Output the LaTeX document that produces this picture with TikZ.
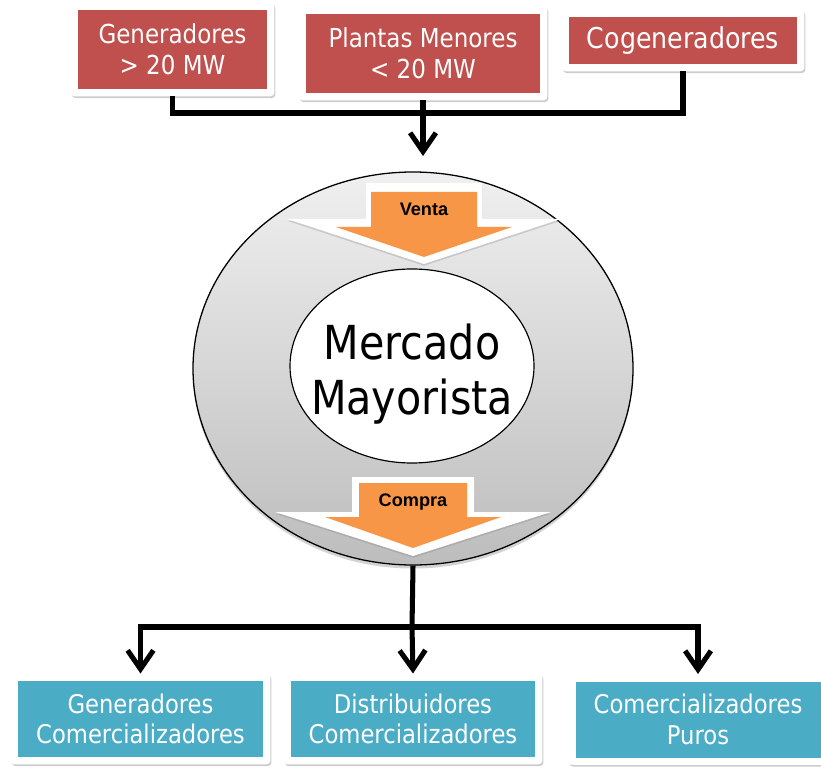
\documentclass[tikz,border=0pt]{standalone}
\usepackage{fontspec}
\setmainfont[FakeStretch=0.88]{DejaVu Sans}
\newfontfamily\labelfont{Liberation Sans}
\usetikzlibrary{arrows.meta,positioning,fit,backgrounds,shadows,shapes.geometric}
\definecolor{boxred}{HTML}{C0504D}
\definecolor{boxteal}{HTML}{4BACC6}
\definecolor{arroworange}{HTML}{F79646}

\begin{document}
\begin{tikzpicture}[x=0.03cm, y=-0.03cm,
  redbox/.style={fill=boxred, text=white, shape=rectangle, align=center, inner sep=0pt, font=\fontsize{22.3}{26.5}\selectfont},
  tealbox/.style={fill=boxteal, text=white, shape=rectangle, align=center, inner sep=0pt, minimum height=2.28cm, font=\fontsize{22}{26}\selectfont},
  frame/.style={fill=white, inner sep=6pt, rounded corners=3pt, drop shadow={opacity=0.4, shadow xshift=1pt, shadow yshift=-1.5pt}},
  conn/.style={line width=4.3pt},
  tip/.style={-{Straight Barb[length=16pt, width=22pt]}},
  tag/.style={font=\labelfont\bfseries\fontsize{15.5}{18}\selectfont},
  whitearrow/.style={fill=white, drop shadow={opacity=0.3, shadow xshift=0pt, shadow yshift=-1.5pt}},
  orangearrow/.style={fill=arroworange}]
\useasboundingbox (0,0) rectangle (821,768);

% top boxes
\node[redbox, minimum width=5.67cm, minimum height=2.37cm] (1) at (172.5,49.5) {Generadores\\> 20 MW};
\node[redbox, minimum width=7.02cm, minimum height=2.37cm] (2) at (423,53.5) {Plantas Menores\\< 20 MW};
\node[redbox, minimum width=6.84cm, minimum height=1.41cm, font=\fontsize{24.5}{28}\selectfont] (3) at (683,40.5) {Cogeneradores};

% bottom boxes
\node[tealbox, minimum width=7.35cm] (4) at (140.5,719) {Generadores\\Comercializadores};
\node[tealbox, minimum width=7.32cm] (5) at (413,719) {Distribuidores\\Comercializadores};
\node[tealbox, minimum width=7.35cm] (6) at (698,719.5) {Comercializadores\\Puros};

\begin{scope}[on background layer]
\node[frame, fit=(1)] (1f) {};
\node[frame, fit=(2)] (2f) {};
\node[frame, fit=(3)] (3f) {};
\node[frame, fit=(4)] (4f) {};
\node[frame, fit=(5)] (5f) {};
\node[frame, fit=(6)] (6f) {};
\end{scope}

% market
\node[ellipse, draw, line width=1.1pt, top color=black!6, bottom color=black!26, minimum width=13.2cm, minimum height=11.79cm, drop shadow={opacity=0.35, shadow xshift=0pt, shadow yshift=-3pt}] (7) at (413,368.5) {};
\node[ellipse, draw, line width=1pt, fill=white, minimum width=7.32cm, minimum height=5.82cm] (8) at (412,366) {};
\node[align=center, font=\fontsize{40}{47}\selectfont] (9) at (412,374) {Mercado\\Mayorista};

% venta / compra
\path[whitearrow] (366,183) -- (482,183) -- (482,219) -- (561,219) -- (424,264) -- (287,219) -- (366,219) -- cycle;
\path[orangearrow] (371,192) -- (477,192) -- (477,227) -- (512,227) -- (424,257) -- (336,227) -- (371,227) -- cycle;
\node[tag] (10) at (424,209) {Venta};
\path[whitearrow] (352,477) -- (474,477) -- (474,512) -- (551,512) -- (413,556) -- (275,512) -- (352,512) -- cycle;
\path[orangearrow] (359,483) -- (467,483) -- (467,517) -- (501,517) -- (413,548) -- (325,517) -- (359,517) -- cycle;
\node[tag] (11) at (413,502) {Compra};

% connectors
\coordinate (12) at (423,113);
\coordinate (13) at (423,156);
\coordinate (14) at (412,627);
\draw[conn] (1f.south) |- (12) -| (3f.south);
\draw[conn, tip] (2f.south) -- (13);
\draw[conn] (7.south) -- (14);
\draw[conn, tip] (14) -| (4f.north);
\draw[conn, tip] (14) -| (6f.north);
\draw[conn, tip] (14) -- (5f.north);
\end{tikzpicture}
\end{document}
